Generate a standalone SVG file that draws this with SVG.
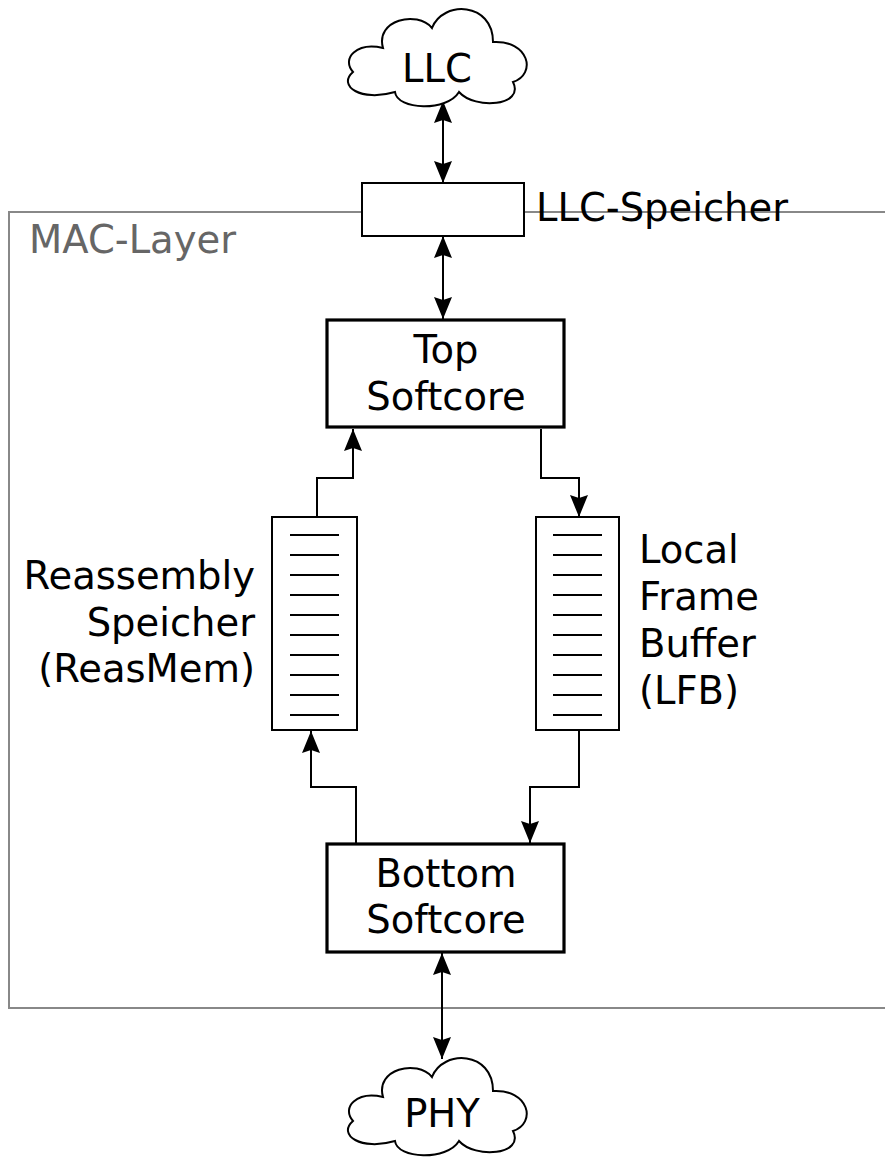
<svg xmlns="http://www.w3.org/2000/svg" width="885" height="1162" viewBox="0 0 885 1162">
  <style>
    text { font-family: "DejaVu Sans", Verdana, sans-serif; font-size: 38.5px; fill: #000; }
    .mid { text-anchor: middle; }
    .end { text-anchor: end; }
    .layer { fill: none; stroke: #888; stroke-width: 2; }
    .layer-label { fill: #666; }
    .core { fill: #fff; stroke: #000; stroke-width: 3.2; }
    .box { fill: #fff; stroke: #000; stroke-width: 2; }
    .cloud { fill: #fff; stroke: #000; stroke-width: 2; }
    .slot { stroke: #000; stroke-width: 1.8; }
    .edge { fill: none; stroke: #000; stroke-width: 2; }
  </style>
  <defs>
    <marker id="arrow" viewBox="0 0 24 20" refX="23" refY="10" markerWidth="24" markerHeight="20" markerUnits="userSpaceOnUse" orient="auto-start-reverse">
      <path d="M23 10 L1 1 L4 10 L1 19 Z" fill="#000"/>
    </marker>
    <!-- cloud outline, local box about 180 x 98 -->
    <path id="cloudShape" d="M36 42 C28 14 70 4 85 22 C96 -6 146 -4 146 36 C182 34 190 68 166 76 C178 100 128 104 112 86 C100 106 50 104 48 86 C14 96 -10 80 6 66 C-6 52 10 36 36 42 Z"/>
  </defs>

  <!-- MAC layer frame -->
  <g id="mac-layer">
    <rect class="layer" x="9" y="212" width="890" height="796"/>
    <text class="layer-label" x="29" y="253">MAC-Layer</text>
  </g>

  <!-- connectors -->
  <g id="connectors">
    <line class="edge" x1="443" y1="101" x2="443" y2="183" marker-start="url(#arrow)" marker-end="url(#arrow)"/>
    <line class="edge" x1="443" y1="236" x2="443" y2="319" marker-start="url(#arrow)" marker-end="url(#arrow)"/>
    <path class="edge" d="M317 517 V478 H353 V429" marker-end="url(#arrow)"/>
    <path class="edge" d="M541 429 V478 H579 V517" marker-end="url(#arrow)"/>
    <path class="edge" d="M356 843 V787 H311 V731" marker-end="url(#arrow)"/>
    <path class="edge" d="M579 730 V787 H530 V843" marker-end="url(#arrow)"/>
    <line class="edge" x1="442" y1="953" x2="442" y2="1059" marker-start="url(#arrow)" marker-end="url(#arrow)"/>
  </g>

  <g id="llc">
    <use href="#cloudShape" class="cloud" transform="translate(347 6)"/>
    <text class="mid" x="437" y="82">LLC</text>
  </g>

  <g id="llc-speicher">
    <rect class="box" x="362" y="183" width="162" height="53"/>
    <text x="536" y="221">LLC-Speicher</text>
  </g>

  <g id="top-softcore">
    <rect class="core" x="327" y="320" width="237" height="107"/>
    <text class="mid" x="446" y="363">Top</text>
    <text class="mid" x="446" y="410">Softcore</text>
  </g>

  <g id="reassembly-speicher">
    <rect class="box" x="272" y="517" width="85" height="213"/>
    <g class="slot">
      <line x1="290" y1="535" x2="339" y2="535"/>
      <line x1="290" y1="555" x2="339" y2="555"/>
      <line x1="290" y1="575" x2="339" y2="575"/>
      <line x1="290" y1="595" x2="339" y2="595"/>
      <line x1="290" y1="615" x2="339" y2="615"/>
      <line x1="290" y1="635" x2="339" y2="635"/>
      <line x1="290" y1="655" x2="339" y2="655"/>
      <line x1="290" y1="675" x2="339" y2="675"/>
      <line x1="290" y1="695" x2="339" y2="695"/>
      <line x1="290" y1="715" x2="339" y2="715"/>
    </g>
    <text class="end" x="255" y="589">Reassembly</text>
    <text class="end" x="255" y="636">Speicher</text>
    <text class="end" x="255" y="682">(ReasMem)</text>
  </g>

  <g id="local-frame-buffer">
    <rect class="box" x="536" y="517" width="83" height="213"/>
    <g class="slot">
      <line x1="553" y1="535" x2="602" y2="535"/>
      <line x1="553" y1="555" x2="602" y2="555"/>
      <line x1="553" y1="575" x2="602" y2="575"/>
      <line x1="553" y1="595" x2="602" y2="595"/>
      <line x1="553" y1="615" x2="602" y2="615"/>
      <line x1="553" y1="635" x2="602" y2="635"/>
      <line x1="553" y1="655" x2="602" y2="655"/>
      <line x1="553" y1="675" x2="602" y2="675"/>
      <line x1="553" y1="695" x2="602" y2="695"/>
      <line x1="553" y1="715" x2="602" y2="715"/>
    </g>
    <text x="639" y="563">Local</text>
    <text x="639" y="610">Frame</text>
    <text x="639" y="657">Buffer</text>
    <text x="639" y="704">(LFB)</text>
  </g>

  <g id="bottom-softcore">
    <rect class="core" x="327" y="844" width="237" height="108"/>
    <text class="mid" x="446" y="887">Bottom</text>
    <text class="mid" x="446" y="933">Softcore</text>
  </g>

  <g id="phy">
    <use href="#cloudShape" class="cloud" transform="translate(347 1055)"/>
    <text class="mid" x="442" y="1127">PHY</text>
  </g>
</svg>
